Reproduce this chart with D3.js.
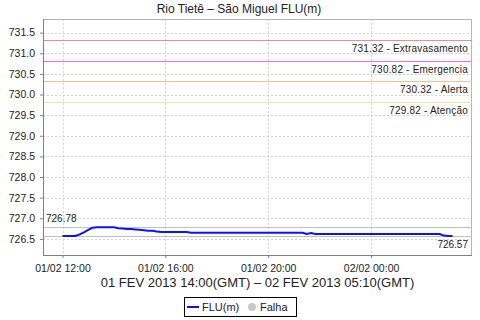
<!DOCTYPE html>
<html>
<head>
<meta charset="utf-8">
<script src="https://cdn.jsdelivr.net/npm/d3@7"></script>
<style>
  body { margin: 0; background: #fff; }
  text { font-family: "Liberation Sans", Arial, sans-serif; }
</style>
</head>
<body>
<div id="chart"></div>
<script>
// Data (local time, 10 minute readings)
var startTime = "2013-02-01 12:00",
    stepMinutes = 10;
var levels = [
  726.57, 726.57, 726.57, 726.57, 726.61, 726.66, 726.72, 726.77, 726.78, 726.78,
  726.78, 726.78, 726.78, 726.76, 726.75, 726.74, 726.74, 726.73, 726.72, 726.71,
  726.70, 726.70, 726.68, 726.67, 726.67, 726.67, 726.67, 726.67, 726.67, 726.67,
  726.65, 726.65, 726.65, 726.65, 726.65, 726.65, 726.65, 726.65, 726.65, 726.65,
  726.65, 726.65, 726.65, 726.65, 726.65, 726.65, 726.65, 726.65, 726.65, 726.65,
  726.65, 726.65, 726.65, 726.65, 726.65, 726.65, 726.65, 726.62, 726.64, 726.62,
  726.62, 726.62, 726.62, 726.62, 726.62, 726.62, 726.62, 726.62, 726.62, 726.62,
  726.62, 726.62, 726.62, 726.62, 726.62, 726.62, 726.62, 726.62, 726.62, 726.62,
  726.62, 726.62, 726.62, 726.62, 726.62, 726.62, 726.62, 726.62, 726.62, 726.58,
  726.57, 726.57
];
var thresholdValues = [731.32, 730.82, 730.32, 729.82],
    thresholdNames = ["Extravasamento", "Emergencia", "Alerta", "Atenção"],
    thresholdColors = ["#ec8c8c", "#ff66ff", "#fbbf8a", "#f6e39a"];
var maxValue = 726.78, minValue = 726.57;
var yTicks = [726.5, 727.0, 727.5, 728.0, 728.5, 729.0, 729.5, 730.0, 730.5, 731.0, 731.5];
var xTicks = ["2013-02-01 12:00", "2013-02-01 16:00", "2013-02-01 20:00", "2013-02-02 00:00"];
var yDomain = [726.11, 731.83];
var title = "Rio Tietê – São Miguel FLU(m)",
    subtitle = "01 FEV 2013 14:00(GMT) – 02 FEV 2013 05:10(GMT)";

var W = 480, H = 320,
    margin = { left: 43, top: 19, right: 8, bottom: 65 },
    width = W - margin.left - margin.right,
    height = H - margin.top - margin.bottom;

var parse = d3.utcParse("%Y-%m-%d %H:%M");
var t0 = parse(startTime);
var data = levels.map(function(v, i) {
  return { t: new Date(t0.getTime() + i * stepMinutes * 60000), v: v };
});

var svg = d3.select("#chart").append("svg")
    .attr("width", W)
    .attr("height", H);

var tExt = d3.extent(data, function(d) { return d.t; }),
    pad = (tExt[1] - tExt[0]) * 0.05;
var x = d3.scaleUtc()
    .domain([new Date(+tExt[0] - pad), new Date(+tExt[1] + pad)])
    .range([0, width]);
var y = d3.scaleLinear().domain(yDomain).range([height, 0]);

var g = svg.append("g")
    .attr("transform", "translate(" + margin.left + "," + margin.top + ")");

// title
svg.append("text")
    .attr("x", 239).attr("y", 13)
    .attr("text-anchor", "middle")
    .style("font-size", "12px")
    .style("fill", "#222")
    .text(title);

// grid
g.selectAll("line.hgrid").data(yTicks).enter().append("line")
    .attr("class", "hgrid")
    .attr("x1", 0).attr("x2", width)
    .attr("y1", function(d) { return Math.round(y(d)) + 0.5; })
    .attr("y2", function(d) { return Math.round(y(d)) + 0.5; })
    .style("stroke", "#d4d4d4").style("stroke-dasharray", "2,2");
g.selectAll("line.vgrid").data(xTicks).enter().append("line")
    .attr("class", "vgrid")
    .attr("y1", 0).attr("y2", height)
    .attr("x1", function(d) { return Math.round(x(parse(d))) + 0.5; })
    .attr("x2", function(d) { return Math.round(x(parse(d))) + 0.5; })
    .style("stroke", "#d4d4d4").style("stroke-dasharray", "2,2");

// plot border
g.append("rect")
    .attr("x", 0.5).attr("y", 0.5)
    .attr("width", width - 1).attr("height", height)
    .style("fill", "none").style("stroke", "#b4b4b4");

// threshold lines
var th = g.selectAll("g.threshold").data(thresholdValues).enter().append("g")
    .attr("class", "threshold");
th.append("line")
    .attr("x1", 0).attr("x2", width)
    .attr("y1", function(d) { return Math.round(y(d)) + 0.5; })
    .attr("y2", function(d) { return Math.round(y(d)) + 0.5; })
    .style("stroke", function(d, i) { return thresholdColors[i]; });
th.append("text")
    .attr("x", width - 4)
    .attr("y", function(d) { return y(d) + 12; })
    .attr("text-anchor", "end")
    .style("font-size", "10px")
    .style("letter-spacing", "0.2px")
    .style("fill", "#222")
    .text(function(d, i) { return d3.format(".2f")(d) + " - " + thresholdNames[i]; });

// max / min markers
var mm = [maxValue, minValue];
g.selectAll("line.mm").data(mm).enter().append("line")
    .attr("class", "mm")
    .attr("x1", 0).attr("x2", width)
    .attr("y1", function(d) { return Math.round(y(d)) + 0.5; })
    .attr("y2", function(d) { return Math.round(y(d)) + 0.5; })
    .style("stroke", "#c0c0c0");
g.append("text")
    .attr("x", 3).attr("y", y(maxValue) - 5)
    .style("font-size", "10px").style("fill", "#222")
    .text(d3.format(".2f")(maxValue));
g.append("text")
    .attr("x", width - 4).attr("y", y(minValue) + 12)
    .attr("text-anchor", "end")
    .style("font-size", "10px").style("fill", "#222")
    .text(d3.format(".2f")(minValue));

// series line
var line = d3.line()
    .x(function(d) { return x(d.t); })
    .y(function(d) { return y(d.v); });
g.append("path")
    .datum(data)
    .attr("d", line)
    .style("fill", "none")
    .style("stroke", "#1010ff")
    .style("stroke-width", 2);

// axes
var yAxis = g.append("g")
    .call(d3.axisLeft(y).tickValues(yTicks).tickSize(3).tickPadding(5).tickFormat(d3.format(".1f")));
var xAxis = g.append("g")
    .attr("transform", "translate(0," + height + ")")
    .call(d3.axisBottom(x).tickValues(xTicks.map(parse)).tickSize(3).tickPadding(7)
      .tickFormat(d3.utcFormat("%d/%m %H:%M")));
[yAxis, xAxis].forEach(function(a) {
  a.select(".domain").style("stroke", "#808080");
  a.selectAll(".tick line").style("stroke", "#808080");
  a.selectAll("text").style("font-family", "Liberation Sans, Arial, sans-serif")
      .style("font-size", "10.5px").style("fill", "#222");
});
yAxis.select(".domain").attr("d", "M0.5,0V" + height);
xAxis.select(".domain").attr("d", "M0,0.5H" + width);

// subtitle
svg.append("text")
    .attr("x", margin.left + width / 2).attr("y", 287)
    .attr("text-anchor", "middle")
    .style("font-size", "13px")
    .style("fill", "#222")
    .text(subtitle);

// legend
var lg = svg.append("g").attr("transform", "translate(184,297)");
lg.append("rect")
    .attr("x", 0.5).attr("y", 0.5).attr("width", 112).attr("height", 19)
    .style("fill", "#fff").style("stroke", "#000");
lg.append("line")
    .attr("x1", 3).attr("x2", 15).attr("y1", 10).attr("y2", 10)
    .style("stroke", "#1010ff").style("stroke-width", 2);
lg.append("text")
    .attr("x", 18).attr("y", 14)
    .style("font-size", "11px").style("fill", "#222")
    .text("FLU(m)");
lg.append("circle")
    .attr("cx", 68).attr("cy", 10).attr("r", 4)
    .style("fill", "#c8c8c8");
lg.append("text")
    .attr("x", 76).attr("y", 14)
    .style("font-size", "11px").style("fill", "#222")
    .text("Falha");
</script>
</body>
</html>
